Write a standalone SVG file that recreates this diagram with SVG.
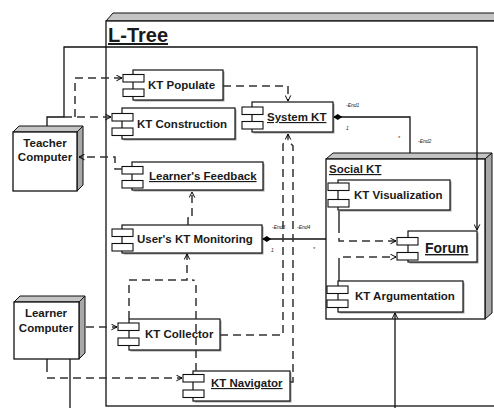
<svg xmlns="http://www.w3.org/2000/svg" width="494" height="408" viewBox="0 0 494 408">
<defs>
<marker id="arr" viewBox="0 0 10 10" refX="9" refY="5" markerWidth="7" markerHeight="7" orient="auto-start-reverse" markerUnits="userSpaceOnUse">
<path d="M1,1 L9,5 L1,9" fill="none" stroke="#000" stroke-width="1.4"/>
</marker>
<marker id="dia" viewBox="0 0 12 8" refX="1" refY="4" markerWidth="10" markerHeight="6" orient="auto" markerUnits="userSpaceOnUse">
<path d="M0,4 L6,0 L12,4 L6,8 Z" fill="#000"/>
</marker>
</defs>
<style>
text{font-family:"Liberation Sans",Arial,sans-serif;font-weight:bold;fill:#1a1a1a}
.lbl{font-size:11.5px}
.u{text-decoration:underline}
.small{font-size:5px;font-weight:normal;font-style:italic}
.box{fill:#fff;stroke:#111;stroke-width:1.2}
.sh{fill:#a0a0a0}
.tab{fill:#fff;stroke:#111;stroke-width:1.1}
.side{fill:#a8a8a8;stroke:#111;stroke-width:1}
.top{fill:#c4c4c4;stroke:#111;stroke-width:1}
.front{fill:#fff;stroke:#111;stroke-width:1.3}
.solid{fill:none;stroke:#111;stroke-width:1.3}
.dash{fill:none;stroke:#333;stroke-width:1.5;stroke-dasharray:8,5}
</style>
<rect width="494" height="408" fill="#fff"/>

<g id="ltree">
<polygon class="top" points="106,21 113,13 500,13 500,21"/>
<rect class="front" x="106" y="21" width="400" height="385"/>
<text x="108" y="42" font-size="20" class="u">L-Tree</text>
</g>

<g id="teacher">
<polygon class="top" points="13,132 19,126 83,126 77,132"/>
<polygon class="side" points="77,132 83,126 83,185 77,191"/>
<rect class="front" x="13" y="132" width="64" height="59"/>
<text x="45" y="147" class="lbl" text-anchor="middle">Teacher</text>
<text x="45" y="161" class="lbl" text-anchor="middle">Computer</text>
</g>

<g id="learner">
<polygon class="top" points="14,302 20,296 85,296 79,302"/>
<polygon class="side" points="79,302 85,296 85,353 79,359"/>
<rect class="front" x="14" y="302" width="65" height="57"/>
<text x="46" y="317" class="lbl" text-anchor="middle">Learner</text>
<text x="46" y="332" class="lbl" text-anchor="middle">Computer</text>
</g>

<g id="socialkt">
<polygon class="top" points="326,159 333,153 492,153 485,159"/>
<polygon class="side" points="485,159 492,153 492,313 485,319"/>
<rect class="front" x="326" y="159" width="159" height="160"/>
<text x="329" y="173" class="lbl u">Social KT</text>
</g>

<g id="ktpopulate">
<rect class="sh" x="134.5" y="71.5" width="90" height="30"/>
<rect class="box" x="133" y="70" width="90" height="30"/>
<rect class="tab" x="123" y="74.5" width="21" height="7.5"/>
<rect class="tab" x="123" y="89" width="21" height="7.5"/>
<text x="148" y="89" class="lbl">KT Populate</text>
</g>

<g id="ktconstruction">
<rect class="sh" x="123.5" y="109.5" width="113" height="31"/>
<rect class="box" x="122" y="108" width="113" height="31"/>
<rect class="tab" x="112" y="113.5" width="21" height="7.5"/>
<rect class="tab" x="112" y="128" width="21" height="7.5"/>
<text x="137" y="128" class="lbl">KT Construction</text>
</g>

<g id="learnersfeedback">
<rect class="sh" x="133.5" y="163.5" width="131" height="28"/>
<rect class="box" x="132" y="162" width="131" height="28"/>
<rect class="tab" x="122" y="166.5" width="21" height="7.5"/>
<rect class="tab" x="122" y="180.5" width="21" height="7.5"/>
<text x="149" y="180" class="lbl u">Learner's Feedback</text>
</g>

<g id="userskt">
<rect class="sh" x="123.5" y="226.5" width="140" height="28"/>
<rect class="box" x="122" y="225" width="140" height="28"/>
<rect class="tab" x="112" y="229" width="21" height="7.5"/>
<rect class="tab" x="112" y="243.5" width="21" height="7.5"/>
<text x="137" y="243" class="lbl">User's KT Monitoring</text>
</g>

<g id="systemkt">
<rect class="sh" x="253.5" y="103.5" width="81" height="30"/>
<rect class="box" x="252" y="102" width="81" height="30"/>
<rect class="tab" x="242" y="107" width="21" height="7.5"/>
<rect class="tab" x="242" y="121.5" width="21" height="7.5"/>
<text x="267" y="121" class="lbl u">System KT</text>
</g>

<g id="ktcollector">
<rect class="sh" x="130.5" y="320.5" width="91" height="31"/>
<rect class="box" x="129" y="319" width="91" height="31"/>
<rect class="tab" x="118" y="323" width="21" height="7.5"/>
<rect class="tab" x="118" y="338" width="21" height="7.5"/>
<text x="145" y="338" class="lbl">KT Collector</text>
</g>

<g id="ktnavigator">
<rect class="sh" x="194.5" y="372.5" width="97" height="30"/>
<rect class="box" x="193" y="371" width="97" height="30"/>
<rect class="tab" x="183" y="374.5" width="21" height="7.5"/>
<rect class="tab" x="183" y="390" width="21" height="7.5"/>
<text x="211" y="387" class="lbl u">KT Navigator</text>
</g>

<g id="ktvisualization">
<rect class="sh" x="339.5" y="181.5" width="112" height="30"/>
<rect class="box" x="338" y="180" width="112" height="30"/>
<rect class="tab" x="328" y="183" width="21" height="7.5"/>
<rect class="tab" x="328" y="199.5" width="21" height="7.5"/>
<text x="354" y="199" class="lbl">KT Visualization</text>
</g>

<g id="forum">
<rect class="sh" x="409.5" y="232.5" width="69" height="31"/>
<rect class="box" x="408" y="231" width="69" height="31"/>
<rect class="tab" x="397" y="237.5" width="21" height="7.5"/>
<rect class="tab" x="397" y="252.5" width="21" height="7.5"/>
<text x="425" y="253" font-size="14" class="u">Forum</text>
</g>

<g id="ktargumentation">
<rect class="sh" x="339.5" y="282.5" width="125" height="31"/>
<rect class="box" x="338" y="281" width="125" height="31"/>
<rect class="tab" x="327" y="286" width="21" height="7.5"/>
<rect class="tab" x="327" y="300" width="21" height="7.5"/>
<text x="355" y="300" class="lbl">KT Argumentation</text>
</g>

<g id="connectors">
<path class="solid" d="M47,126 V117 H64 V47 H477 V230" marker-end="url(#arr)"/>
<path class="solid" d="M70,359 V408"/>
<path class="solid" d="M395,408 V313" marker-end="url(#arr)"/>
<path class="solid" d="M334,117 H410 V153" marker-start="url(#dia)"/>
<path class="solid" d="M263,239 H326" marker-start="url(#dia)"/>

<path class="dash" d="M75,117 V78 H122" marker-end="url(#arr)"/>
<path class="dash" d="M64,117 H111" marker-end="url(#arr)"/>
<path class="dash" d="M122,169 H115 V157 H79" marker-end="url(#arr)"/>
<path class="dash" d="M223,86 H288 V101" marker-end="url(#arr)"/>
<path class="dash" d="M188,225 V218 H192 V192" marker-end="url(#arr)"/>
<path class="dash" d="M129,319 V280 H187 V254" marker-end="url(#arr)"/>
<path class="dash" d="M196,371 V283 Q196,280 192,280"/>
<path class="dash" d="M220,335 H283 V144 L288,140"/>
<path class="dash" d="M290,382 H293 V146 L288,140 V134" marker-end="url(#arr)"/>
<path class="dash" d="M86,327 H117" marker-end="url(#arr)"/>
<path class="solid" d="M47,359 V372"/>
<path class="dash" d="M47,378 H182" marker-end="url(#arr)"/>
<path class="solid" d="M339,211 V225"/>
<path class="dash" d="M339,225 V241 H396" marker-end="url(#arr)"/>
<path class="solid" d="M339,281 V266"/>
<path class="dash" d="M339,266 V257 H396" marker-end="url(#arr)"/>

<text x="346" y="107" class="small">-End1</text>
<text x="346" y="130" class="small">1</text>
<text x="398" y="140" class="small">*</text>
<text x="418" y="143" class="small">-End2</text>
<text x="272" y="229" class="small">-End3</text>
<text x="297" y="229" class="small">-End4</text>
<text x="271" y="252" class="small">1</text>
<text x="313" y="251" class="small">*</text>
</g>
</svg>
